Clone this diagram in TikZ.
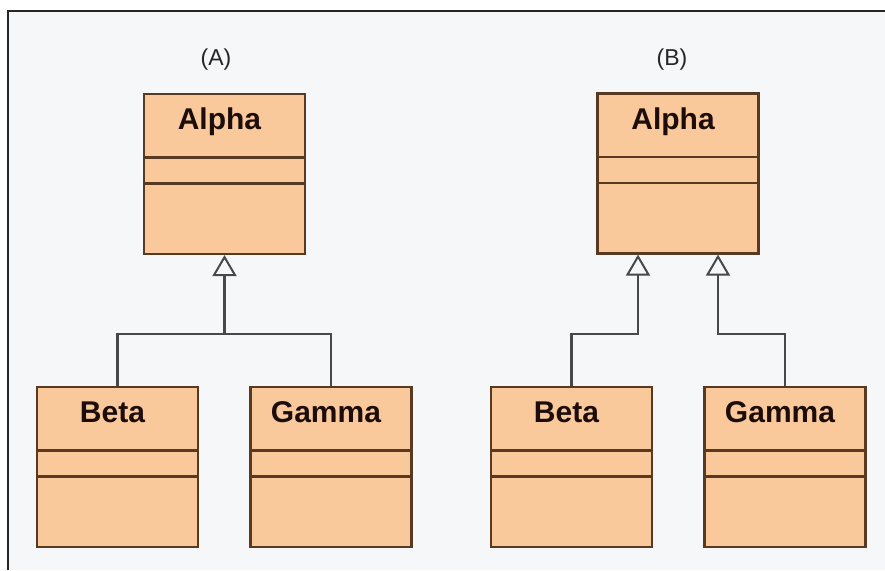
\documentclass[tikz,border=0pt]{standalone}
\usepackage{fontspec}
\setmainfont{Liberation Sans}
\usetikzlibrary{arrows.meta}
\definecolor{boxfill}{RGB}{249,201,156}
\definecolor{boxline}{RGB}{88,58,34}
\definecolor{connline}{RGB}{72,72,72}
\definecolor{panel}{RGB}{246,247,248}
\definecolor{nametext}{RGB}{28,12,10}
\begin{document}
\begin{tikzpicture}[x=1pt,y=-1pt,
  clsbox/.style={draw=boxline, line width=2.2pt, fill=boxfill, rectangle,
    minimum width=161pt, minimum height=160pt, inner sep=0pt},
  clsname/.style={anchor=base, inner sep=0pt, text=nametext,
    font=\fontsize{30}{36}\selectfont\bfseries},
  caption/.style={inner sep=0pt, text=black!85,
    font=\fontsize{23}{28}\selectfont},
  divider/.style={draw=boxline, line width=2.2pt},
  conn/.style={draw=connline, line width=2.1pt},
  inh/.style={conn, -{Triangle[open, width=24pt, length=21pt, line width=2pt]}}]
\useasboundingbox (0,0) rectangle (885,570);
\fill[white] (0,0) rectangle (885,570);
\fill[panel] (8,11) rectangle (885,570);
\draw[black!85, line width=2.6pt] (8,570) -- (8,11) -- (885,11);

% captions
\node[caption] (capA) at (216,60) {(A)};
\node[caption] (capB) at (672,60) {(B)};

% class boxes (A)
\node[clsbox] (a1) at (224.5,174) {};
\node[clsbox] (b1) at (117.5,467) {};
\node[clsbox] (g1) at (331,467) {};
% class boxes (B)
\node[clsbox] (a2) at (678,173.5) {};
\node[clsbox] (b2) at (571.5,467) {};
\node[clsbox] (g2) at (785,467) {};

% compartments and names
\foreach \n/\t in {a1/Alpha,b1/Beta,g1/Gamma,a2/Alpha,b2/Beta,g2/Gamma}{
  \draw[divider] ([yshift=-64.5pt]\n.north west) -- ([yshift=-64.5pt]\n.north east);
  \draw[divider] ([yshift=-90.5pt]\n.north west) -- ([yshift=-90.5pt]\n.north east);
  \node[clsname] (\n name) at ([xshift=-5pt,yshift=-37pt]\n.north) {\t};
}

% connectors (A): shared generalization
\coordinate (jA) at (224.5,334);
\draw[conn] (b1.north) |- (jA) -| (g1.north);
\draw[inh] (jA) -- (a1.south);

% connectors (B): separate generalizations
\coordinate (jB1) at (638,334);
\coordinate (jB2) at (718,334);
\draw[inh] (b2.north) |- (jB1) -- (jB1 |- a2.south);
\draw[inh] (g2.north) |- (jB2) -- (jB2 |- a2.south);
\end{tikzpicture}
\end{document}
